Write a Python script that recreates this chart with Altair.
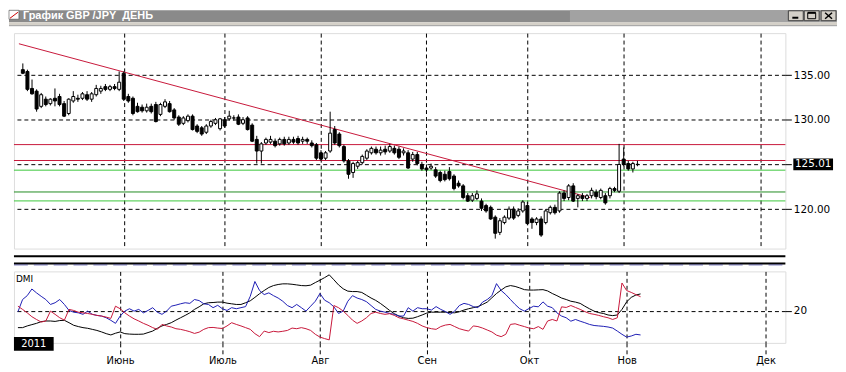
import altair as alt
import pandas as pd

# ---------------- data ----------------
OPEN = [135.6, 135.4, 133.5, 133.2, 131.5, 132.3, 131.8, 132.4, 132.6, 131.8,
        130.7, 132.1, 132.4, 132.4, 132.8, 132.3, 132.8, 133.2, 133.7, 133.4,
        133.7, 133.4, 135.2, 132.6, 132.4, 131.5, 131.4, 131.0, 131.5, 131.7,
        130.6, 131.5, 131.8, 131.1, 130.3, 129.6, 129.9, 130.4, 129.3, 129.1,
        128.6, 129.3, 129.6, 129.0, 130.0, 130.1, 130.2, 130.3, 129.6, 130.2,
        129.4, 127.8, 126.5, 127.4, 127.5, 127.6, 127.3, 127.8, 127.4, 127.8,
        127.9, 127.6, 127.8, 127.4, 127.2, 126.3, 125.7, 126.5, 128.9, 128.4,
        127.0, 125.4, 124.1, 124.8, 125.2, 125.7, 126.3, 126.7, 126.3, 126.7,
        126.5, 126.8, 126.7, 126.3, 126.3, 125.6, 126.1, 125.0, 124.6, 124.6,
        124.4, 124.1, 123.9, 124.2, 123.7, 122.9, 122.6, 121.5, 121.0, 121.2,
        120.9, 120.4, 120.2, 119.1, 117.4, 118.5, 119.0, 120.0, 119.3, 119.8,
        120.4, 118.9, 118.5, 118.9, 118.5, 119.6, 120.2, 119.8, 121.8, 121.3,
        122.6, 121.2, 121.5, 121.2, 121.5, 121.9, 121.3, 121.5, 121.5, 122.3,
        122.0, 125.6, 125.1, 124.5, 125.0]
HIGH = [136.3, 135.6, 134.5, 133.4, 133.0, 132.6, 132.4, 133.5, 132.9, 132.1,
        132.4, 133.2, 132.8, 133.1, 133.2, 133.1, 133.9, 133.8, 134.0, 133.9,
        134.0, 135.4, 135.4, 132.9, 132.6, 131.9, 131.7, 131.8, 131.8, 132.0,
        131.9, 132.3, 132.1, 131.3, 130.5, 130.4, 130.6, 130.6, 129.5, 129.3,
        129.5, 130.0, 130.2, 130.2, 130.3, 131.0, 130.5, 130.6, 130.3, 130.4,
        129.6, 128.2, 127.5, 128.0, 128.2, 127.9, 128.0, 128.1, 128.1, 128.1,
        128.2, 128.1, 128.0, 127.7, 127.4, 126.6, 126.5, 130.9, 129.3, 128.6,
        127.2, 125.6, 125.3, 125.4, 126.1, 126.7, 127.0, 127.0, 127.0, 127.1,
        127.3, 127.1, 127.0, 126.8, 126.6, 126.4, 126.4, 125.3, 125.0, 125.1,
        124.7, 124.3, 124.3, 124.7, 123.9, 123.2, 122.8, 121.8, 121.8, 122.1,
        121.2, 120.6, 120.4, 119.3, 119.0, 119.3, 120.3, 120.3, 120.1, 121.0,
        120.8, 119.1, 119.1, 119.2, 120.0, 120.4, 120.5, 122.0, 122.1, 122.8,
        122.9, 121.7, 121.8, 121.7, 122.4, 122.2, 122.3, 121.8, 122.5, 122.5,
        127.3, 126.9, 125.4, 125.3, 125.4]
LOW = [135.1, 133.2, 132.8, 130.9, 131.3, 131.5, 131.6, 131.5, 131.5, 130.3,
       130.5, 131.9, 132.0, 132.2, 132.1, 132.0, 132.6, 132.9, 133.2, 133.2,
       133.3, 133.2, 132.1, 131.9, 130.5, 130.8, 130.8, 130.8, 130.7, 129.7,
       130.4, 131.3, 130.8, 130.0, 129.3, 129.4, 129.7, 128.8, 128.5, 128.2,
       128.4, 129.1, 129.4, 128.8, 129.1, 129.9, 129.9, 129.4, 129.4, 128.8,
       127.5, 125.1, 125.1, 127.2, 127.3, 126.9, 127.1, 127.1, 127.2, 127.3,
       127.2, 127.3, 127.3, 126.9, 125.5, 125.4, 125.5, 126.3, 127.2, 126.9,
       125.2, 123.4, 123.5, 124.5, 125.0, 125.5, 126.1, 126.1, 126.0, 126.1,
       126.3, 126.1, 125.6, 126.0, 124.5, 125.3, 124.9, 124.3, 124.1, 124.4,
       123.5, 123.0, 123.1, 123.2, 122.1, 122.4, 121.1, 120.8, 120.8, 121.0,
       119.8, 119.6, 118.8, 116.7, 117.1, 118.3, 118.8, 118.8, 119.1, 119.6,
       118.2, 117.8, 118.2, 116.9, 118.3, 119.4, 119.4, 119.6, 120.9, 121.0,
       120.8, 120.2, 120.9, 120.9, 121.2, 121.1, 121.1, 120.5, 121.2, 121.9,
       121.8, 124.8, 124.3, 124.1, 124.8]
CLOSE = [135.2, 133.4, 132.9, 131.2, 132.8, 131.7, 132.3, 132.1, 131.7, 130.4,
         132.3, 132.6, 132.3, 132.9, 132.3, 132.9, 133.5, 133.5, 133.4, 133.7,
         133.5, 134.2, 132.3, 132.1, 130.7, 130.9, 131.0, 131.4, 130.9, 129.8,
         131.7, 132.0, 130.9, 130.2, 129.5, 130.2, 130.4, 128.9, 128.7, 128.4,
         129.3, 129.8, 130.0, 130.1, 129.3, 130.4, 130.2, 129.5, 130.0, 128.9,
         127.6, 126.5, 127.3, 127.8, 127.8, 127.1, 127.8, 127.3, 127.8, 127.5,
         127.4, 127.8, 127.6, 127.1, 125.7, 125.6, 126.3, 128.5, 127.4, 127.1,
         125.4, 123.9, 125.1, 125.2, 125.9, 126.5, 126.8, 126.3, 126.6, 126.4,
         127.0, 126.3, 125.8, 126.5, 124.6, 126.1, 125.1, 124.5, 124.4, 124.8,
         123.7, 123.2, 123.3, 123.4, 122.3, 122.6, 121.3, 120.9, 121.5, 121.7,
         120.1, 119.8, 118.9, 117.3, 118.7, 119.1, 120.0, 119.0, 119.8, 120.8,
         118.4, 118.5, 118.9, 117.1, 119.8, 120.2, 119.6, 121.8, 121.2, 122.6,
         120.9, 121.5, 121.2, 121.5, 122.1, 121.4, 122.1, 120.7, 122.3, 122.1,
         125.0, 125.0, 124.5, 125.1, 125.01]

ADX = [12.1, 12.1, 12.9, 13.5, 14.1, 14.9, 15.2, 15.2, 15.0, 15.4,
       15.5, 14.4, 13.2, 12.6, 12.1, 11.8, 11.3, 10.8, 10.1, 9.3,
       8.7, 9.5, 10.1, 9.3, 9.1, 9.0, 9.0, 9.1, 9.8, 10.5,
       11.8, 12.9, 13.6, 14.4, 15.6, 16.7, 17.8, 19.0, 20.6, 21.8,
       23.2, 23.7, 23.8, 24.0, 24.0, 23.5, 23.2, 22.9, 22.9, 23.7,
       24.6, 26.2, 27.9, 29.4, 30.8, 31.7, 32.2, 32.5, 32.5, 32.3,
       32.0, 31.7, 31.6, 31.9, 33.1, 34.2, 35.4, 36.7, 34.4, 32.0,
       30.2, 29.1, 28.9, 28.9, 28.5, 27.2, 25.9, 24.8, 23.4, 21.8,
       20.1, 18.6, 17.5, 16.7, 16.4, 16.5, 17.2, 18.0, 18.9, 19.3,
       19.3, 19.3, 19.3, 19.1, 19.0, 19.5, 20.3, 20.9, 21.4, 21.9,
       22.9, 24.0, 26.0, 28.0, 29.6, 31.1, 31.7, 31.3, 30.6, 29.8,
       29.6, 29.6, 29.7, 29.8, 29.2, 28.0, 27.0, 25.9, 25.2, 24.4,
       24.0, 23.4, 22.1, 20.9, 19.8, 19.1, 18.7, 18.0, 17.7, 18.0,
       20.6, 24.1, 26.2, 27.3, 27.8]
PLUS_DI = [19.5, 25.2, 27.0, 30.1, 28.3, 26.7, 25.2, 22.9, 23.7, 25.2,
           22.9, 20.1, 19.3, 19.0, 18.3, 19.8, 18.3, 17.8, 17.5, 16.7,
           15.5, 14.1, 17.5, 19.8, 20.9, 19.8, 20.6, 19.0, 20.1, 21.4,
           19.3, 18.3, 19.8, 22.1, 22.6, 23.2, 23.7, 23.4, 25.2, 24.7,
           23.2, 22.9, 21.4, 22.5, 20.9, 20.1, 21.4, 20.9, 21.4, 21.9,
           26.7, 33.6, 29.4, 27.5, 28.3, 27.0, 25.9, 24.4, 22.4, 21.4,
           22.9, 21.4, 19.8, 22.1, 24.4, 28.0, 24.9, 23.7, 21.8, 18.7,
           19.8, 24.4, 27.0, 25.9, 25.2, 24.2, 22.4, 20.6, 19.8, 19.3,
           18.7, 18.3, 17.5, 17.5, 21.4, 19.8, 21.4, 20.9, 20.9, 20.3,
           21.9, 20.6, 19.6, 18.3, 19.8, 22.4, 23.4, 22.9, 21.9, 21.4,
           24.0, 25.2, 27.0, 32.6, 29.4, 27.5, 25.2, 22.9, 20.9, 19.8,
           21.0, 22.1, 21.8, 24.1, 22.1, 21.4, 19.0, 17.5, 16.7, 15.1,
           15.9, 15.1, 14.4, 13.6, 13.1, 12.9, 12.7, 12.4, 11.9, 10.5,
           9.0, 7.7, 8.2, 9.0, 8.7]
MINUS_DI = [22.1, 20.6, 19.0, 17.2, 15.9, 14.7, 15.2, 19.8, 18.3, 16.7,
            15.6, 20.6, 20.1, 19.3, 19.0, 18.7, 18.3, 17.8, 17.5, 17.0,
            16.4, 22.1, 20.9, 19.0, 17.5, 16.2, 15.2, 14.1, 13.2, 12.1,
            11.3, 13.6, 12.9, 12.4, 11.6, 11.3, 10.8, 10.2, 9.4, 10.0,
            11.3, 12.1, 12.2, 11.9, 11.7, 12.9, 14.4, 13.6, 12.9, 12.1,
            11.3, 9.3, 7.9, 10.5, 9.8, 10.4, 10.1, 10.4, 10.8, 11.9,
            11.6, 12.1, 11.6, 10.8, 9.0, 7.7, 7.0, 6.4, 22.4, 21.4,
            19.8, 17.8, 15.6, 14.1, 15.2, 16.7, 18.7, 19.3, 18.7, 18.3,
            18.6, 17.8, 16.7, 16.2, 15.6, 15.0, 14.1, 12.9, 12.1, 11.6,
            11.3, 12.6, 13.3, 13.6, 12.6, 11.6, 11.0, 10.5, 12.9, 12.6,
            11.9, 11.0, 10.1, 8.6, 7.9, 9.0, 13.6, 13.9, 13.2, 12.6,
            11.9, 11.6, 12.6, 11.3, 15.2, 15.9, 15.2, 21.8, 21.5, 22.4,
            21.5, 20.6, 19.6, 18.7, 18.3, 17.8, 17.2, 16.7, 15.9, 16.7,
            32.9, 29.4, 28.5, 27.5, 26.5]

MONTH_POS = [22, 44, 65, 88, 110, 131, 160.9]   # bar index of the 1st of each month
MONTH_NAMES = ["Июнь", "Июль", "Авг", "Сен", "Окт", "Нов", "Дек"]
PRICE_TICKS = [120, 130, 135]
LAST_PRICE = 125.01
LEVELS = [127.22, 125.44, 124.36, 121.92, 120.92]
LEVEL_KIND = ["res", "res", "sup", "pivot", "sup"]
TREND_X = [-0.855, 123.7]
TREND_Y = [138.5, 121.29]
DMI_TICKS = [20]
TITLE = "График GBP /JPY\u00a0 ДЕНЬ"
YEAR = "2011"

# ---------------- styling / layout ----------------
W, HP, HS, HD = 777, 217, 11, 72
XDOM = [-0.855, 165.17]
PDOM = [115.59, 139.69]
DDOM = [5.0, 38.3]
DASH = [4, 3]
RED, GREEN, DGREEN, BLUE = "#c8183a", "#3cc83c", "#208c20", "#1e1eb4"
FONT = "DejaVu Sans"

N = len(CLOSE)
idx = list(range(N))
candles = pd.DataFrame({"i": idx, "open": OPEN, "high": HIGH, "low": LOW, "close": CLOSE})
candles["dir"] = ["up" if c >= o else "down" for o, c in zip(OPEN, CLOSE)]
levels = pd.DataFrame({"level": LEVELS, "kind": LEVEL_KIND})
trend = pd.DataFrame({"x0": [TREND_X[0]], "x1": [TREND_X[1]], "y0": [TREND_Y[0]], "y1": [TREND_Y[1]]})
last = pd.DataFrame({"p": [LAST_PRICE], "label": [f"{LAST_PRICE:.2f}"]})
dmi = pd.DataFrame({
    "i": idx * 3,
    "v": ADX + PLUS_DI + MINUS_DI,
    "line": ["ADX"] * N + ["+DI"] * N + ["-DI"] * N,
})
one = pd.DataFrame({"k": [0]})

month_expr = " : ".join(
    f"datum.value < {p + 0.5} ? '{n}'" for p, n in zip(MONTH_POS, MONTH_NAMES)
) + " : ''"

# one colour scale for every coloured line of the figure
COLOR_SCALE = alt.Scale(domain=["res", "sup", "pivot", "ADX", "+DI", "-DI"],
                        range=[RED, GREEN, DGREEN, "black", BLUE, RED])
XS = alt.Scale(domain=XDOM, nice=False, zero=False)
PS = alt.Scale(domain=PDOM, nice=False, zero=False)
DS = alt.Scale(domain=DDOM, nice=False, zero=False)

px_axis = alt.Axis(values=MONTH_POS, labels=False, ticks=False, domain=False, grid=True,
                   gridColor="black", gridDash=DASH, gridOpacity=1, gridWidth=1, title=None)
py_axis = alt.Axis(orient="right", values=PRICE_TICKS + [LAST_PRICE],
                   labelExpr=f"abs(datum.value - {LAST_PRICE}) < 0.001 ? '' : format(datum.value, '.2f')",
                   grid=True, gridColor="black", gridDash=DASH, gridOpacity=1, gridWidth=1,
                   domain=False, ticks=True, tickSize=6, tickColor="black", labelPadding=2,
                   labelFont=FONT, labelFontSize=10.5, labelColor="black", title=None)
dx_axis = alt.Axis(values=MONTH_POS, labelExpr=month_expr, grid=True, gridColor="black",
                   gridDash=DASH, gridOpacity=1, gridWidth=1, domain=False, ticks=True,
                   tickSize=11, tickDash=DASH, tickColor="black", labelPadding=2,
                   labelFont=FONT, labelFontSize=10, labelColor="black", labelFlush=False,
                   labelOverlap=False, title=None)
dy_axis = alt.Axis(orient="right", values=DMI_TICKS, format="d", grid=True, gridColor="black",
                   gridDash=DASH, gridOpacity=1, gridWidth=1, domain=False, ticks=True,
                   tickSize=6, tickColor="black", labelPadding=2, labelFont=FONT,
                   labelFontSize=10.5, labelColor="black", title=None)


def box(x, x2, y, y2, **kw):
    return alt.Chart(one).mark_rect(**kw).encode(
        x=alt.value(x), x2=alt.value(x2), y=alt.value(y), y2=alt.value(y2))


def seg(x, x2, y, y2, **kw):
    return alt.Chart(one).mark_rule(**kw).encode(
        x=alt.value(x), x2=alt.value(x2), y=alt.value(y), y2=alt.value(y2))


# ---------------- price panel ----------------
level_layer = alt.Chart(levels).mark_rule(strokeWidth=1).encode(
    y=alt.Y("level:Q", scale=PS, axis=py_axis),
    color=alt.Color("kind:N", scale=COLOR_SCALE, legend=None),
)
trend_layer = alt.Chart(trend).mark_rule(color=RED, strokeWidth=1).encode(
    x=alt.X("x0:Q", scale=XS, axis=px_axis), x2="x1:Q",
    y=alt.Y("y0:Q", scale=PS, axis=py_axis), y2="y1:Q",
)
wick = alt.Chart(candles).mark_rule(color="black", strokeWidth=1).encode(
    x=alt.X("i:Q", scale=XS, axis=px_axis),
    y=alt.Y("low:Q", scale=PS, axis=py_axis), y2="high:Q",
)
body = alt.Chart(candles).mark_bar(size=3, stroke="black", strokeWidth=1).encode(
    x=alt.X("i:Q", scale=XS, axis=px_axis),
    y=alt.Y("open:Q", scale=PS, axis=py_axis), y2="close:Q",
    fill=alt.Fill("dir:N", scale=alt.Scale(domain=["up", "down"], range=["white", "black"]),
                  legend=None),
)
last_box = alt.Chart(last).mark_point(
    shape="M-1,-0.3L1,-0.3L1,0.3L-1,0.3Z", size=1600, filled=True, fill="black",
    opacity=1, strokeWidth=0).encode(
    x=alt.value(W + 28), y=alt.Y("p:Q", scale=PS, axis=py_axis))
last_txt = alt.Chart(last).mark_text(
    fill="white", font=FONT, fontSize=10.5, align="center", baseline="middle").encode(
    x=alt.value(W + 28), y=alt.Y("p:Q", scale=PS, axis=py_axis), text="label:N")

title_layers = [
    box(-5, 829, -23, -11, fill="#8a8a8a"),
    box(560, 829, -23, -11, fill="#a2a2a2"),
    box(-5, 829, -11, -8, fill="#d4d0c8"),
    seg(-5, 829, -7.5, -7.5, color="#9a9a9a", strokeWidth=1),
    box(-5, 5, -23, -14, fill="white", stroke="#505050", strokeWidth=0.6),
    seg(-4, 4, -15, -21, color="#cc0000", strokeWidth=1),
    alt.Chart(one).mark_text(text=TITLE, align="left", baseline="alphabetic",
                             font="Liberation Sans", fontSize=11, fontWeight="bold",
                             fill="white").encode(x=alt.value(9), y=alt.value(-14)),
    box(780, 795, -22.5, -12.5, fill="#d4d0c8", stroke="#404040", strokeWidth=1),
    seg(784, 790, -15.5, -15.5, color="black", strokeWidth=2),
    box(796, 811, -22.5, -12.5, fill="#d4d0c8", stroke="#404040", strokeWidth=1),
    box(799.5, 807.5, -20.5, -14.5, fill="#d4d0c8", stroke="black", strokeWidth=1),
    seg(799.5, 807.5, -20.5, -20.5, color="black", strokeWidth=2),
    box(813, 828, -22.5, -12.5, fill="#d4d0c8", stroke="#404040", strokeWidth=1),
    seg(817, 824, -20.5, -14.5, color="black", strokeWidth=1.5),
    seg(817, 824, -14.5, -20.5, color="black", strokeWidth=1.5),
]

price = alt.layer(
    level_layer, trend_layer, wick, body, last_box, last_txt, *title_layers
).properties(width=W, height=HP)

# ---------------- separator ----------------
sep = alt.layer(
    box(-5, -4, 0, 1, fill="white"),
    seg(0, W, 1.7, 1.7, color="black", strokeWidth=2),
    seg(0, W, 9, 9, color="black", strokeWidth=2),
    seg(0, W, 10.5, 10.5, color="#3a3a9a", strokeWidth=1, strokeDash=[14, 6], opacity=0.7),
).properties(width=W, height=HS, view=alt.ViewBackground(stroke="transparent"))

# ---------------- DMI panel ----------------
dmi_lines = alt.Chart(dmi).mark_line(strokeWidth=1).encode(
    x=alt.X("i:Q", scale=XS, axis=dx_axis),
    y=alt.Y("v:Q", scale=DS, axis=dy_axis),
    color=alt.Color("line:N", scale=COLOR_SCALE, legend=None),
)
dmi_chart = alt.layer(
    box(-5, -4, 0, 1, fill="white"),
    dmi_lines,
    alt.Chart(one).mark_text(text="DMI", align="left", baseline="alphabetic", font=FONT,
                             fontSize=9, fill="black").encode(x=alt.value(2), y=alt.value(11)),
    box(0, 40, 66, 80, fill="black"),
    alt.Chart(one).mark_text(text=YEAR, align="center", baseline="middle", font=FONT,
                             fontSize=10, fill="white").encode(x=alt.value(20), y=alt.value(73.5)),
).properties(width=W, height=HD)

chart = alt.vconcat(price, sep, dmi_chart, spacing=4).properties(
    padding=0, background="white"
).configure_view(stroke="black", strokeWidth=1).configure(font=FONT)

chart.save("out.html", embed_options={"renderer": "svg", "actions": False})
